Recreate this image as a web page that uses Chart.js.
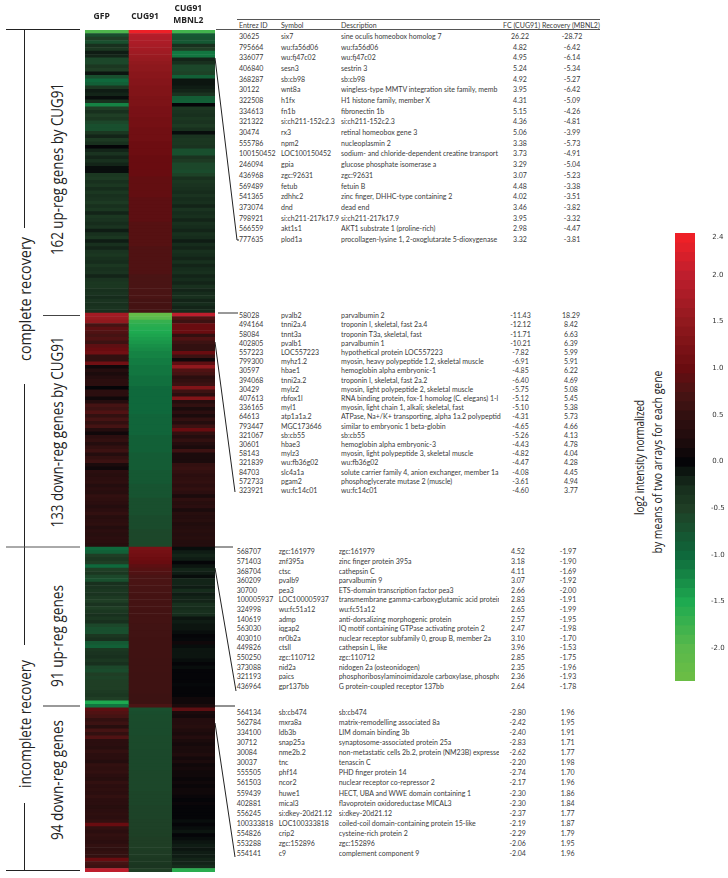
<!DOCTYPE html>
<html>
<head>
<meta charset="utf-8">
<script src="https://cdn.jsdelivr.net/npm/chart.js@4"></script>
<title>Heatmap</title>
<style>
  html, body { margin: 0; padding: 0; background: #fff; }
  #page { position: relative; width: 728px; height: 878px; overflow: hidden; }
  canvas { position: absolute; }
  svg { position: absolute; left: 0; top: 0; }
  .cell { position: absolute; font: 7px Lato, sans-serif; color: #3a3a3a; white-space: nowrap; line-height: 10px; }
  .side { font-family: "Open Sans", sans-serif; fill: #222; }
</style>
</head>
<body>
<div id="page">
  <svg id="notes" width="728" height="878"></svg>
  <canvas id="heat"></canvas>
  <canvas id="scale"></canvas>
</div>

<script>
const columns = ['GFP', 'CUG91', ['CUG91', 'MBNL2']];

// log2 values, two genes per row from top to bottom
const gfpUp = [-1.9,-.7,-.5,-.7,-.3,-.4,-.15,-.2,-.6,-.6,
  -.4,-.5,-.1,-.7,-1.0,-.9,-.4,-.15,-.2,-.05,
  -.3,-1.2,-.5,-.3,-.5,-.4,-.6,-.7,-.7,-.4,
  -.2,-.45,-.3,0,-.2,-.35,-.2,-.3,-.2,-.05,
  -.05,-.4,-.45,-.3,-.4,-.25,-.4,-.3,-.35,-.45,
  -.3,-.4,-.2,-.4,-.35,-.25,-.35,-.15,-.3,-.4,
  -.15,-.3,-.2,-.35,-.4,-.3,-.25,-.4,-.3,-.35,
  -.2,-.35,-.4,-.4,-.3,-.35,-.25,-.35,-.3,-.35,-.3];
const cugUp = [2.4,1.9,1.85,1.8,1.75,1.7,1.65,1.6,1.55,1.5,
  1.45,1.45,1.4,1.4,1.35,1.35,1.3,1.3,1.3,1.25,
  1.25,1.25,1.2,1.2,1.2,1.15,1.15,1.15,1.1,1.1,
  1.1,1.1,1.05,1.05,1.05,1.05,1.0,1.0,1.0,1.0,
  1.0,1.0,.95,.95,.95,.95,.95,.95,.9,.9,
  .9,.9,.9,.9,.9,.85,.85,.85,.85,.85,
  .85,.85,.8,.8,.8,.8,.8,.8,.8,.8,
  .75,.75,.75,.75,.75,.75,.75,.7,.7,.7,.7];
const mbnlUp = [-1.8,-.8,-.75,-.8,-.3,-.5,-1.1,-1.1,-.2,-.3,
  -.6,-.6,-.55,-.9,-.1,-.1,-.15,-.2,-.35,-.85,
  -.9,0,-.4,-.35,-.3,-.4,-.35,-.45,-.3,-.05,
  -.35,-.4,-.4,-.35,-.7,-.7,-.35,-.45,-.6,-.6,
  -.65,-.55,-.3,-.4,-.35,-.3,-.25,-.35,-.25,-.3,
  -.2,-.35,-.25,-.3,-.2,-.3,-.25,-.2,-.3,-.25,
  -.15,-.25,-.2,-.3,-.25,-.2,-.3,-.2,-.25,-.3,
  -.2,-.25,-.2,-.3,-.2,-.25,-.3,-.2,-.25,-.2,-.25];

const gfpDown = [1.7,1.6,1.5,.7,.9,.8,.7,.8,.6,.9,
  1.0,1.1,.5,.5,1.1,.1,.3,.2,.3,.4,
  .4,0,.4,.4,.1,.3,.7,.6,.8,.5,
  .7,.5,.7,.3,.1,.4,.5,.3,.5,.6,
  .3,.5,.6,.2,.1,.4,.35,.4,.45,.3,
  .4,.35,.5,.45,.4,.3,.4,.5,.35,.4,
  .45,.3,.4,.35,.4,.4,.35];
const cugDown = [-2.2,-2.0,-1.7,-1.6,-1.55,-1.5,-1.45,-1.4,-1.35,-1.3,
  -1.25,-1.2,-1.2,-1.15,-1.15,-1.1,-1.1,-1.1,-1.05,-1.05,
  -1.05,-1.0,-1.0,-1.0,-1.0,-1.0,-1.0,-1.0,-1.0,-.95,
  -.95,-.95,-.95,-.95,-.95,-.9,-.9,-.9,-.9,-.9,
  -.85,-.85,-.85,-.85,-.85,-.8,-.8,-.8,-.8,-.75,
  -.75,-.75,-.75,-.7,-.7,-.7,-.7,-.7,-.65,-.65,
  -.65,-.65,-.6,-.6,-.6,-.6,-.6];
const mbnlDown = [2.0,.8,.6,1.0,1.0,1.0,.5,.8,.6,.5,
  .5,1.0,.6,.1,.9,1.5,.8,.7,.4,.5,
  .6,1.3,.6,.4,1.3,.3,.5,.2,.4,.2,
  .5,.3,.6,1.0,.5,.3,.5,.3,.2,.6,
  .2,.2,.2,.5,.55,.5,.4,.45,.5,.4,
  .5,.4,.2,.45,.35,.4,.2,.35,.3,.35,
  .25,.3,.35,.3,.35,.3,.3];

const gfpPartUp = [-1.0,-.9,-.5,-.4,-.5,-1.0,-.5,-.4,-.6,-.7,
  -.3,-.35,-.4,-.35,-.45,-.5,-.35,-.5,-.4,-.3,
  -.4,-.3,-.6,-.7,-.7,-.4,-.3,-.8,-.9,-.4,
  -.35,-.3,-.4,-.3,-.6,-.65,-.5,-.55,-.5,-.5,
  -.5,-.45,-.4,-.5,-1.5,-1.1];
const cugPartUp = [1.2,1.15,1.1,1.05,1.0,.9,.85,.8,.75,.75,
  .75,.72,.72,.7,.7,.7,.7,.7,.68,.68,
  .68,.68,.66,.66,.66,.66,.65,.65,.65,.65,
  .65,.65,.64,.64,.64,.64,.62,.62,.62,.62,
  .62,.62,.6,.6,.6,.75];
const mbnlPartUp = [-.05,-.15,-.2,-.15,0,-.1,-.2,-.15,-.05,-.2,
  -.2,-.15,-.25,-.15,-.2,-.2,-.3,-.25,-.3,-.25,
  -.1,-.15,-.1,-.1,-.05,0,-.02,.1,-.05,-.1,
  -.1,-.1,-.05,0,-.05,0,0,0,0,-.02,
  0,0,0,.1,.1,.2];

const gfpPartDown = [.9,.8,.7,.5,.6,.35,.7,.5,.8,.4,
  .4,.35,.5,.4,.4,.3,.5,.45,.5,.4,
  .35,.5,.4,.45,.4,.5,.4,.4,.35,.4,
  .45,.4,.5,1.0,.5,.4,.5,.45,.4,.5,
  .45,.5,.5,1.0,.7,.6,2.0];
const cugPartDown = [-.7,-.68,-.66,-.66,-.65,-.65,-.65,-.65,-.64,-.64,
  -.64,-.64,-.62,-.62,-.62,-.62,-.62,-.62,-.6,-.6,
  -.6,-.6,-.6,-.6,-.58,-.58,-.58,-.58,-.56,-.56,
  -.56,-.56,-.54,-.54,-.54,-.52,-.52,-.5,-.5,-.5,
  -.48,-.46,-.44,-.42,-.4,-.38,-.5];
const mbnlPartDown = [.9,.2,.15,.3,.3,.35,.25,.2,.3,.2,
  .15,.2,.2,.25,.15,.2,.1,.15,.1,.1,
  .05,.1,.05,.1,.1,.05,0,.05,0,0,
  0,0,-.05,0,-.05,-.1,0,-.05,-.1,-.15,
  -.1,-.15,-.15,-.2,-.2,-.25,-1.6];

const gfpValues = [...gfpUp, ...gfpDown, ...gfpPartUp, ...gfpPartDown];
const cugValues = [...cugUp, ...cugDown, ...cugPartUp, ...cugPartDown];
const mbnlValues = [...mbnlUp, ...mbnlDown, ...mbnlPartUp, ...mbnlPartDown];

// colour bar
const scaleLevels = [2.4,2.3,2.2,2.1,2.0,1.9,1.8,1.7,1.6,1.5,1.4,1.3,1.2,1.1,1.0,.9,.8,.7,.6,.5,.4,.3,.2,.1,0,
  -.1,-.2,-.3,-.4,-.5,-.6,-.7,-.8,-.9,-1.0,-1.1,-1.2,-1.3,-1.4,-1.5,-1.6,-1.7,-1.8,-1.9,-2.0,-2.1,-2.2,-2.3];
const scaleTicks = [2.4, 2.0, 1.5, 1.0, 0.5, 0, -0.5, -1.0, -1.5, -2.0];

// table rows: Entrez ID, symbol, description, FC (CUG91), recovery (MBNL2)
const tableUp = [
  ['30625','six7','sine oculis homeobox homolog 7','26.22','-28.72'],
  ['795664','wu:fa56d06','wu:fa56d06','4.82','-6.42'],
  ['336077','wu:fj47c02','wu:fj47c02','4.95','-6.14'],
  ['406840','sesn3','sestrin 3','5.24','-5.34'],
  ['368287','sb:cb98','sb:cb98','4.92','-5.27'],
  ['30122','wnt8a','wingless-type MMTV integration site family, memb','3.95','-6.42'],
  ['322508','h1fx','H1 histone family, member X','4.31','-5.09'],
  ['334613','fn1b','fibronectin 1b','5.15','-4.26'],
  ['321322','si:ch211-152c2.3','si:ch211-152c2.3','4.36','-4.81'],
  ['30474','rx3','retinal homeobox gene 3','5.06','-3.99'],
  ['555786','npm2','nucleoplasmin 2','3.38','-5.73'],
  ['100150452','LOC100150452','sodium- and chloride-dependent creatine transport','3.73','-4.91'],
  ['246094','gpia','glucose phosphate isomerase a','3.29','-5.04'],
  ['436968','zgc:92631','zgc:92631','3.07','-5.23'],
  ['569489','fetub','fetuin B','4.48','-3.38'],
  ['541365','zdhhc2','zinc finger, DHHC-type containing 2','4.02','-3.51'],
  ['373074','dnd','dead end','3.46','-3.82'],
  ['798921','si:ch211-217k17.9','si:ch211-217k17.9','3.95','-3.32'],
  ['566559','akt1s1','AKT1 substrate 1 (proline-rich)','2.98','-4.47'],
  ['777635','plod1a','procollagen-lysine 1, 2-oxoglutarate 5-dioxygenase','3.32','-3.81']
];
const tableDown = [
  ['58028','pvalb2','parvalbumin 2','-11.43','18.29'],
  ['494164','tnni2a.4','troponin I, skeletal, fast 2a.4','-12.12','8.42'],
  ['58084','tnnt3a','troponin T3a, skeletal, fast','-11.71','6.63'],
  ['402805','pvalb1','parvalbumin 1','-10.21','6.39'],
  ['557223','LOC557223','hypothetical protein LOC557223','-7.82','5.99'],
  ['799300','myhz1.2','myosin, heavy polypeptide 1.2, skeletal muscle','-6.91','5.91'],
  ['30597','hbae1','hemoglobin alpha embryonic-1','-4.85','6.22'],
  ['394068','tnni2a.2','troponin I, skeletal, fast 2a.2','-6.40','4.69'],
  ['30429','mylz2','myosin, light polypeptide 2, skeletal muscle','-5.75','5.08'],
  ['407613','rbfox1l','RNA binding protein, fox-1 homolog (C. elegans) 1-l','-5.12','5.45'],
  ['336165','myl1','myosin, light chain 1, alkali; skeletal, fast','-5.10','5.38'],
  ['64613','atp1a1a.2','ATPase, Na+/K+ transporting, alpha 1a.2 polypeptide','-4.31','5.73'],
  ['793447','MGC173646','similar to embryonic 1 beta-globin','-4.65','4.66'],
  ['321067','sb:cb55','sb:cb55','-5.26','4.13'],
  ['30601','hbae3','hemoglobin alpha embryonic-3','-4.43','4.78'],
  ['58143','mylz3','myosin, light polypeptide 3, skeletal muscle','-4.82','4.04'],
  ['321839','wu:fb36g02','wu:fb36g02','-4.47','4.28'],
  ['84703','slc4a1a','solute carrier family 4, anion exchanger, member 1a','-4.08','4.45'],
  ['572733','pgam2','phosphoglycerate mutase 2 (muscle)','-3.61','4.94'],
  ['323921','wu:fc14c01','wu:fc14c01','-4.60','3.77']
];
const tablePartUp = [
  ['568707','zgc:161979','zgc:161979','4.52','-1.97'],
  ['571403','znf395a','zinc finger protein 395a','3.18','-1.90'],
  ['368704','ctsc','cathepsin C','4.11','-1.69'],
  ['360209','pvalb9','parvalbumin 9','3.07','-1.92'],
  ['30700','pea3','ETS-domain transcription factor pea3','2.66','-2.00'],
  ['100005937','LOC100005937','transmembrane gamma-carboxyglutamic acid protein','2.83','-1.91'],
  ['324998','wu:fc51a12','wu:fc51a12','2.65','-1.99'],
  ['140619','admp','anti-dorsalizing morphogenic protein','2.57','-1.95'],
  ['563030','iqgap2','IQ motif containing GTPase activating protein 2','2.47','-1.98'],
  ['403010','nr0b2a','nuclear receptor subfamily 0, group B, member 2a','3.10','-1.70'],
  ['449826','ctsll','cathepsin L, like','3.96','-1.53'],
  ['550250','zgc:110712','zgc:110712','2.85','-1.75'],
  ['373088','nid2a','nidogen 2a (osteonidogen)','2.35','-1.96'],
  ['321193','paics','phosphoribosylaminoimidazole carboxylase, phosphor','2.36','-1.93'],
  ['436964','gpr137bb','G protein-coupled receptor 137bb','2.64','-1.78']
];
const tablePartDown = [
  ['564134','sb:cb474','sb:cb474','-2.80','1.96'],
  ['562784','mxra8a','matrix-remodelling associated 8a','-2.42','1.95'],
  ['334100','ldb3b','LIM domain binding 3b','-2.40','1.91'],
  ['30712','snap25a','synaptosome-associated protein 25a','-2.83','1.71'],
  ['30084','nme2b.2','non-metastatic cells 2b.2, protein (NM23B) expressed','-2.62','1.77'],
  ['30037','tnc','tenascin C','-2.20','1.98'],
  ['555505','phf14','PHD finger protein 14','-2.74','1.70'],
  ['561503','ncor2','nuclear receptor co-repressor 2','-2.17','1.96'],
  ['559439','huwe1','HECT, UBA and WWE domain containing 1','-2.30','1.86'],
  ['402881','mical3','flavoprotein oxidoreductase MICAL3','-2.30','1.84'],
  ['556245','si:dkey-20d21.12','si:dkey-20d21.12','-2.37','1.77'],
  ['100333818','LOC100333818','coiled-coil domain-containing protein 15-like','-2.19','1.87'],
  ['554826','crip2','cysteine-rich protein 2','-2.29','1.79'],
  ['553288','zgc:152896','zgc:152896','-2.06','1.95'],
  ['554141','c9','complement component 9','-2.04','1.96']
];

// red/black/green map taken from the colour bar
const stopValues = [2.4, 2.0, 1.5, 1.0, 0.75, 0.5, 0.25, 0, -0.25, -0.5, -1.0, -1.5, -2.0, -2.3];
const stopColors = [[238,32,39],[190,30,45],[145,25,30],[105,12,16],[74,20,20],[50,16,16],[32,12,13],[5,5,8],[22,44,28],[31,62,37],[15,105,60],[30,170,80],[90,185,75],[106,189,69]];

function heatColor(v) {
  if (v >= stopValues[0]) return `rgb(${stopColors[0].join(',')})`;
  for (let i = 1; i < stopValues.length; i++) {
    if (v >= stopValues[i]) {
      const t = (v - stopValues[i]) / (stopValues[i - 1] - stopValues[i]);
      const c = stopColors[i].map((s, k) => Math.round(s + (stopColors[i - 1][k] - s) * t));
      return `rgb(${c.join(',')})`;
    }
  }
  return `rgb(${stopColors[stopColors.length - 1].join(',')})`;
}

const rowLabels = gfpValues.map((v, i) => i + 1);

function heatDataset(values) {
  return {
    data: values.map(() => 1),
    backgroundColor: values.map(heatColor),
    borderWidth: 0,
    categoryPercentage: 1,
    barPercentage: 1
  };
}

const heatCanvas = document.getElementById('heat');
heatCanvas.style.left = '85px';
heatCanvas.style.top = '0px';
heatCanvas.width = 130;
heatCanvas.height = 872;

new Chart(heatCanvas, {
  type: 'bar',
  data: {
    labels: rowLabels,
    datasets: [heatDataset(gfpValues), heatDataset(cugValues), heatDataset(mbnlValues)]
  },
  options: {
    indexAxis: 'y',
    responsive: false,
    animation: false,
    events: [],
    layout: { padding: 0 },
    plugins: { legend: { display: false }, tooltip: { enabled: false } },
    scales: {
      x: {
        position: 'top',
        stacked: true,
        min: 0,
        max: 3,
        grid: { display: false, drawTicks: false },
        border: { display: false },
        afterFit: s => { s.height = 30; },
        afterBuildTicks: s => { s.ticks = [{ value: 0.5 }, { value: 1.5 }, { value: 2.5 }]; },
        ticks: {
          autoSkip: false,
          maxRotation: 0,
          padding: 4,
          labelOffset: -5,
          color: '#222',
          callback: (v, i) => columns[i],
          font: c => ({ family: '"Open Sans"', size: 8.5, weight: 'bold', lineHeight: c.index == 2 ? '11.7px' : '18.6px' })
        }
      },
      y: { stacked: true, display: false, grid: { display: false } }
    }
  }
});

// colour bar, one floating bar per 0.1 step
const scaleCanvas = document.getElementById('scale');
scaleCanvas.style.left = '675px';
scaleCanvas.style.top = '225px';
scaleCanvas.width = 53;
scaleCanvas.height = 463;

new Chart(scaleCanvas, {
  type: 'bar',
  data: {
    labels: [''],
    datasets: scaleLevels.map(l => ({
      data: [[l - 0.05, l + 0.05]],
      backgroundColor: heatColor(l),
      borderWidth: 0,
      grouped: false,
      categoryPercentage: 1,
      barPercentage: 1
    }))
  },
  options: {
    responsive: false,
    animation: false,
    events: [],
    layout: { padding: { top: 8, bottom: 7 } },
    plugins: { legend: { display: false }, tooltip: { enabled: false } },
    scales: {
      x: { display: false, grid: { display: false } },
      y: {
        position: 'right',
        min: -2.35,
        max: 2.45,
        grid: { display: false },
        border: { display: false },
        // no extra margin for the first and last tick label
        afterFit: s => { s.width = 33; s.paddingTop = 0; s.paddingBottom = 0; },
        afterBuildTicks: s => { s.ticks = scaleTicks.map(v => ({ value: v })); },
        ticks: {
          padding: 8,
          color: '#333',
          crossAlign: 'center',
          font: { family: '"DejaVu Sans"', size: 7 },
          callback: v => v.toFixed(1)
        }
      }
    }
  }
});

// table text
const page = document.getElementById('page');

function addCell(text, x, y, width, align) {
  const d = document.createElement('div');
  d.className = 'cell';
  d.textContent = text;
  d.style.top = (y - 5) + 'px';
  if (align == 'center') {
    d.style.left = (x - 30) + 'px';
    d.style.width = '60px';
    d.style.textAlign = 'center';
  } else {
    d.style.left = x + 'px';
    if (width) { d.style.width = width + 'px'; d.style.overflow = 'hidden'; }
  }
  page.appendChild(d);
}

function addTable(rows, top, step, xId, xFc, xRec) {
  rows.forEach((r, i) => {
    const y = top + step * i;
    addCell(r[0], xId, y);
    addCell(r[1], xId + 42, y);
    addCell(r[2], xId + 102, y, 160);
    addCell(r[3], xFc, y, 0, 'center');
    addCell(r[4], xRec, y, 0, 'center');
  });
}

addCell('Entrez ID', 239, 25.3);
addCell('Symbol', 281, 25.3);
addCell('Description', 341, 25.3);
addCell('FC (CUG91)', 503, 25.3);
addCell('Recovery (MBNL2)', 542, 25.3);

addTable(tableUp, 36, 10.68, 239, 520, 572);
addTable(tableDown, 315.3, 9.19, 239, 520.5, 571);
addTable(tablePartUp, 551.3, 9.6, 236.7, 518, 568);
addTable(tablePartDown, 711.7, 10.1, 236.7, 517.7, 567.7);

// brackets, callout lines and rotated labels
const notes = document.getElementById('notes');
const svgNS = 'http://www.w3.org/2000/svg';

function addLine(x1, y1, x2, y2, color, w) {
  const l = document.createElementNS(svgNS, 'line');
  l.setAttribute('x1', x1); l.setAttribute('y1', y1);
  l.setAttribute('x2', x2); l.setAttribute('y2', y2);
  l.setAttribute('stroke', color || '#222');
  l.setAttribute('stroke-width', w || 1);
  notes.appendChild(l);
}

// length squeezes the text to the narrower face used in the original
function addSide(text, x, y, size, length) {
  const t = document.createElementNS(svgNS, 'text');
  t.setAttribute('class', 'side');
  t.setAttribute('font-size', size);
  t.setAttribute('text-anchor', 'middle');
  t.setAttribute('dominant-baseline', 'central');
  t.setAttribute('textLength', length);
  t.setAttribute('lengthAdjust', 'spacingAndGlyphs');
  t.setAttribute('transform', `translate(${x},${y}) rotate(-90)`);
  t.textContent = text;
  notes.appendChild(t);
}

// left brackets
addLine(6, 29.5, 80, 29.5);
addLine(24.5, 29, 24.5, 228);
addLine(24.5, 384, 24.5, 645);
addLine(24.5, 803, 24.5, 870);
addLine(6, 547, 80, 547, '#555');
addLine(6, 870.5, 80, 870.5);
addLine(43, 315.5, 80, 315.5, '#444');
addLine(43, 706, 80, 706, '#777', 1.5);

// table rules
addLine(237, 19.5, 600, 19.5, '#555');
addLine(216, 29.5, 600, 29.5, '#555');
addLine(218, 313, 238, 313, '#333');
addLine(214, 547, 233, 547, '#333');
addLine(214, 706, 235, 706, '#222');

// callouts from heatmap to table
addLine(215, 58, 237, 240);
addLine(237, 240, 239, 240);
addLine(215, 342, 235, 492);
addLine(215, 568, 236, 691);
addLine(215, 723, 235, 857);

addSide('complete recovery', 25, 299, 15.5, 124);
addSide('incomplete recovery', 25, 724, 15.5, 128);
addSide('162 up-reg genes by CUG91', 57, 169, 15.5, 172);
addSide('133 down-reg genes by CUG91', 57, 432, 15.5, 191);
addSide('91 up-reg genes', 57, 636, 15.5, 102);
addSide('94 down-reg genes', 57, 780, 15.5, 120);
addSide('log2 intensity normalized', 639, 457.5, 13, 115);
addSide('by means of two arrays for each gene', 657, 462, 13, 183);
</script>
</body>
</html>
